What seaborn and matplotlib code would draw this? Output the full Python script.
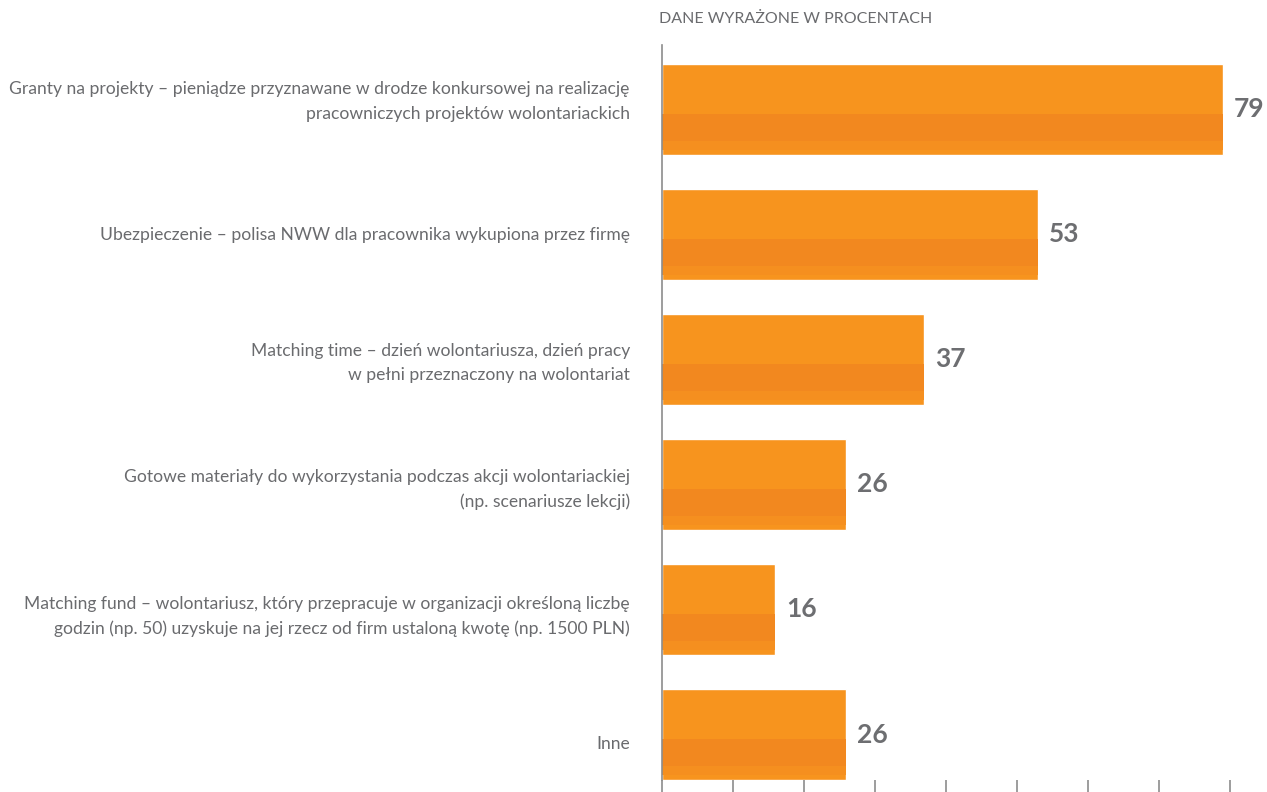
import matplotlib
matplotlib.use("Agg")
import matplotlib.pyplot as plt
import matplotlib.transforms as mtransforms
import seaborn as sns
import numpy as np
import pandas as pd

categories = [
    "Granty na projekty – pieniądze przyznawane w drodze konkursowej na realizację\npracowniczych projektów wolontariackich",
    "Ubezpieczenie – polisa NWW dla pracownika wykupiona przez firmę",
    "Matching time – dzień wolontariusza, dzień pracy\nw pełni przeznaczony na wolontariat",
    "Gotowe materiały do wykorzystania podczas akcji wolontariackiej\n(np. scenariusze lekcji)",
    "Matching fund – wolontariusz, który przepracuje w organizacji określoną liczbę\ngodzin (np. 50) uzyskuje na jej rzecz od firm ustaloną kwotę (np. 1500 PLN)",
    "Inne",
]
values = [79, 53, 37, 26, 16, 26]
x_ticks = [0, 10, 20, 30, 40, 50, 60, 70, 80]
unit_note = "DANE WYRAŻONE W PROCENTACH"

sns.set_theme(style="white")
plt.rcParams["font.family"] = ["Lato", "DejaVu Sans"]

BAR_LIGHT = "#F7941E"
BAR_DARK = "#F2881F"
TEXT_GREY = "#6A6B6E"
VALUE_GREY = "#6D6E71"
AXIS_GREY = "#8C8C8C"
BAR_W = 0.728

# small vertical nudges of the category labels (pixels, positive = down)
label_shift_px = [-13.5, -1, -2, -1, 1.5, 8]

df = pd.DataFrame({"kategoria": categories, "procent": values})

fig = plt.figure(figsize=(12.67, 7.92), dpi=100)
ax = fig.add_axes([0.5223, 0.01515, 0.4777, 0.92805])

sns.barplot(data=df, x="procent", y="kategoria", orient="h",
            color=BAR_LIGHT, saturation=1, width=BAR_W, ax=ax)

# darker lower band of each bar
pos = np.arange(len(values))
ax.barh(pos + BAR_W * 0.2, values, height=BAR_W * 0.3, color=BAR_DARK, linewidth=0)
ax.barh(pos + BAR_W * 0.4, values, height=BAR_W * 0.1, color="#F58F1F", linewidth=0)

ax.set_xlim(0, 85.25)
ax.set_ylim(5.364, -0.516)
ax.set_xlabel("")
ax.set_ylabel("")
ax.set_xticks(x_ticks)
ax.set_xticklabels([])

for s in ["top", "right", "bottom"]:
    ax.spines[s].set_visible(False)
ax.spines["left"].set_color(AXIS_GREY)
ax.spines["left"].set_linewidth(1.2)

ax.tick_params(axis="x", bottom=True, direction="out", length=9, width=1.2,
               color=AXIS_GREY)
ax.tick_params(axis="y", left=False, length=0, pad=23)
for lbl, dy in zip(ax.get_yticklabels(), label_shift_px):
    lbl.set_fontsize(12.6)
    lbl.set_fontweight("normal")
    lbl.set_color(TEXT_GREY)
    lbl.set_linespacing(1.62)
    lbl.set_transform(lbl.get_transform() +
                      mtransforms.ScaledTranslation(0, -dy / 100, fig.dpi_scale_trans))

for p, v in zip(pos, values):
    ax.annotate(f"{v}", xy=(v, p), xytext=(8, 0), textcoords="offset points",
                ha="left", va="center", fontsize=19, fontweight="bold",
                color=VALUE_GREY, annotation_clip=False)

fig.text(0.5201, 0.976, unit_note, ha="left", va="center",
         fontsize=11.5, fontweight="normal", color=TEXT_GREY)

fig.savefig("out.png", dpi=100)
